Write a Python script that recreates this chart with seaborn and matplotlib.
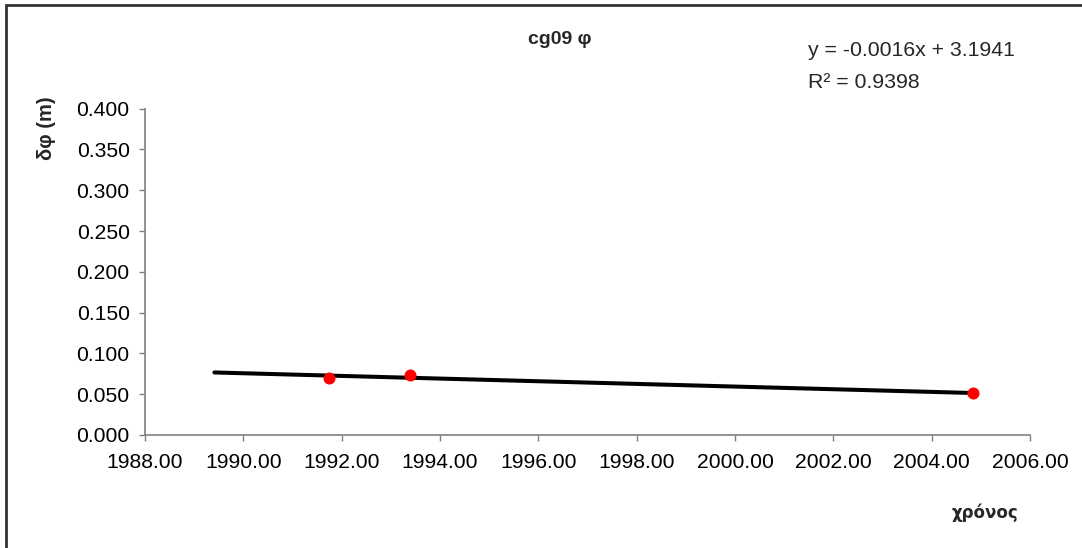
import numpy as np
import pandas as pd
import matplotlib
matplotlib.use("Agg")
import matplotlib.pyplot as plt
import seaborn as sns

# Observation epochs (decimal years) and displacement in latitude (m)
years = [1991.75, 1993.38, 2004.84]
dphi = [0.0702, 0.0732, 0.0511]

# Linear trend, drawn back to the first survey epoch
trend_start = 1989.41
equation_text = "y = -0.0016x + 3.1941"
r2_text = "R² = 0.9398"

x_ticks = np.arange(1988, 2006.1, 2)
y_ticks = np.arange(0, 0.4001, 0.05)

sns.set_style("white")
plt.rcParams["font.family"] = ["Liberation Sans", "DejaVu Sans"]

fig = plt.figure(figsize=(10.82, 5.48), dpi=100)
ax = fig.add_axes([145 / 1082, 1 - 435 / 548, (1030 - 145) / 1082, (435 - 108.7) / 548])

df = pd.DataFrame({"year": years, "dphi": dphi})

# least-squares trend line
slope, intercept = np.polyfit(df["year"], df["dphi"], 1)
tx = np.array([trend_start, max(years)])
trend = pd.DataFrame({"year": tx, "dphi": slope * tx + intercept})
sns.lineplot(data=trend, x="year", y="dphi", ax=ax, color="black", linewidth=2.9, zorder=2)

sns.scatterplot(data=df, x="year", y="dphi", ax=ax, color="#ff0000", s=75,
                edgecolor="#ff0000", linewidth=0, zorder=3)

ax.set_xlim(1988, 2006)
ax.set_ylim(0, 0.4)
ax.set_xticks(x_ticks)
ax.set_yticks(y_ticks)
ax.set_xticklabels([f"{v:.2f}" for v in x_ticks])
ax.set_yticklabels([f"{v:.3f}" for v in y_ticks])
ax.tick_params(axis="both", labelsize=15.2, colors="#808080", labelcolor="black",
               length=4, width=1, direction="out", bottom=True, left=True)
ax.tick_params(axis="x", pad=9)
ax.tick_params(axis="y", pad=7)

for side in ["top", "right"]:
    ax.spines[side].set_visible(False)
for side in ["left", "bottom"]:
    ax.spines[side].set_color("#808080")
    ax.spines[side].set_linewidth(1.2)
ax.set_xlabel("")
ax.set_ylabel("")
ax.grid(False)

# titles and labels in figure pixel coordinates
def fx(px):
    return px / 1082

def fy(py):
    return 1 - py / 548

fig.text(fx(560), fy(40), "cg09 φ", ha="center", va="center", fontsize=14, fontweight="bold")
fig.text(fx(47), fy(128), "δφ (m)", ha="center", va="center", rotation=90,
         fontsize=14.5, fontweight="bold")
fig.text(fx(985), fy(513), "χρόνος", ha="center", va="center", fontsize=12,
         fontweight="bold", family=["DejaVu Sans"])
fig.text(fx(808), fy(50), equation_text, ha="left", va="center", fontsize=15.3)
fig.text(fx(808), fy(82), r2_text, ha="left", va="center", fontsize=15.3)

# chart frame
frame = plt.Rectangle((fx(6), fy(560)), 1.2, fy(5) - fy(560), transform=fig.transFigure,
                      fill=False, edgecolor="#333333", linewidth=2, clip_on=False)
fig.add_artist(frame)

fig.savefig("out.png", dpi=100)
